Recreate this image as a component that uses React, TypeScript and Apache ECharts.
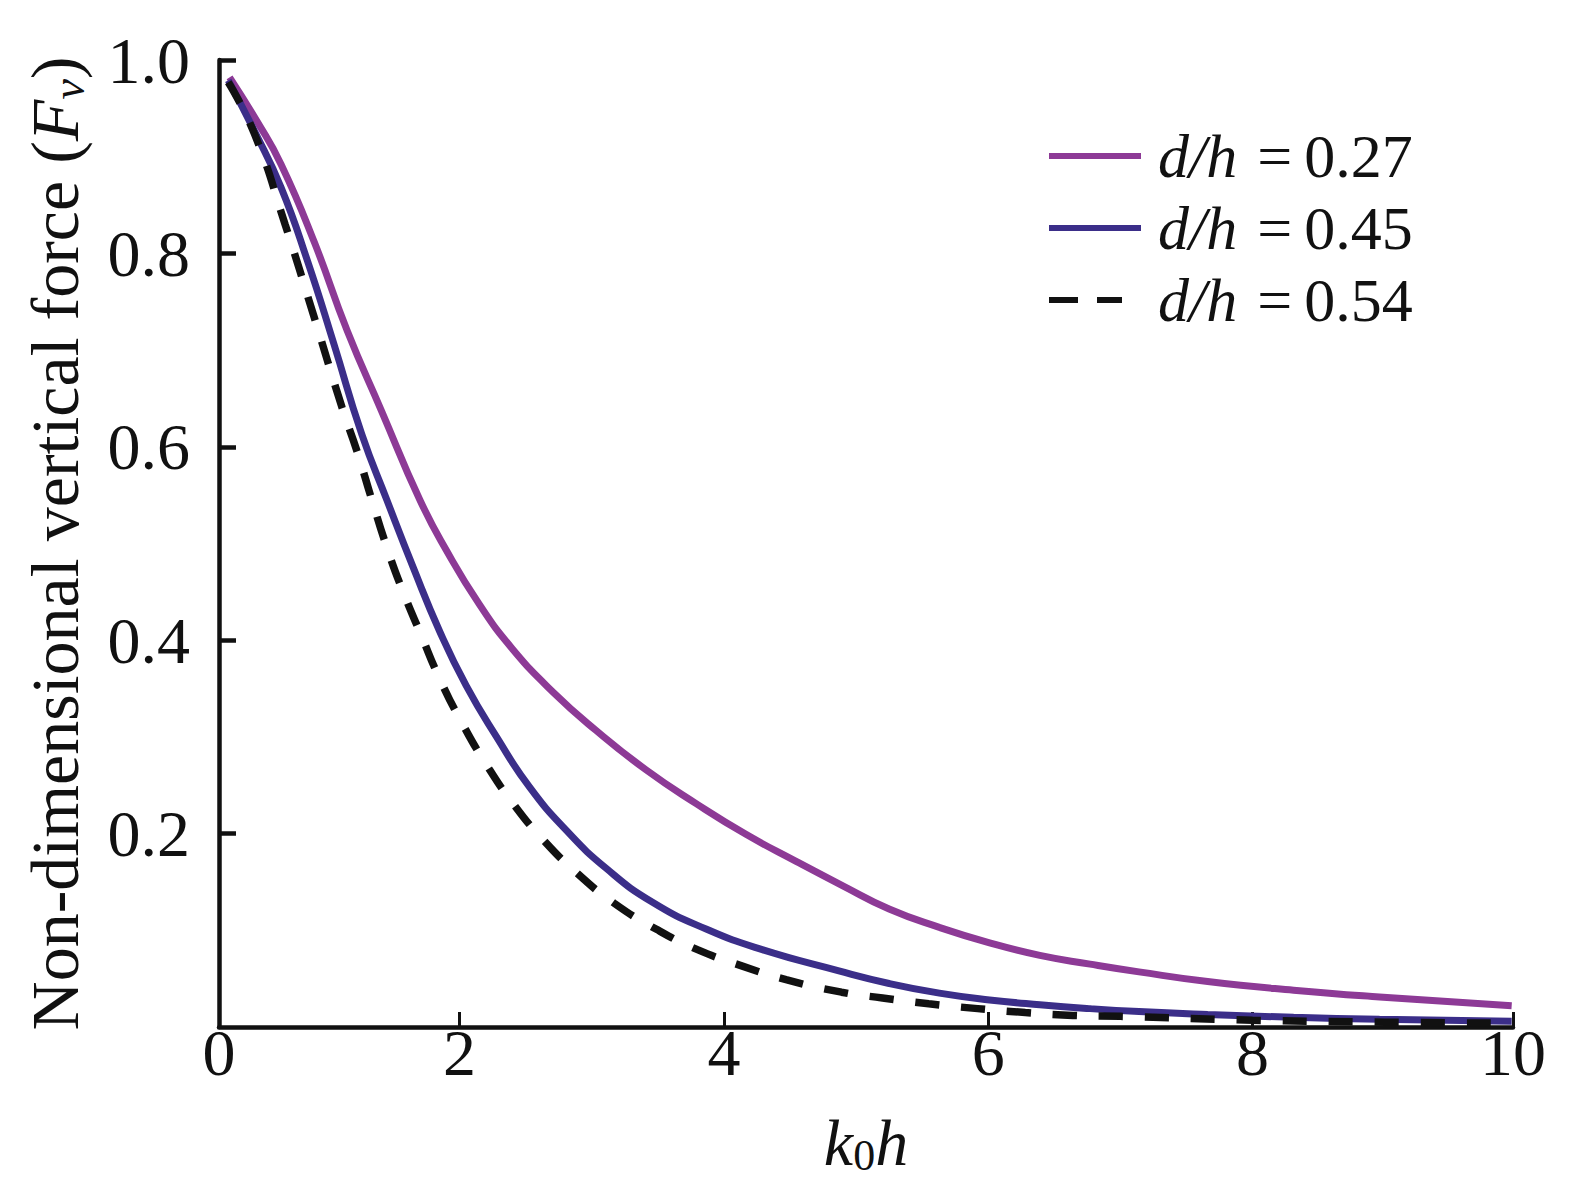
import React, { useEffect, useRef } from 'react';
import * as echarts from 'echarts';

// ---- data ----
const kh027 = [0.26, 0.47, 0.65, 0.9, 1.15, 1.41, 1.7, 1.9, 2.15, 2.4, 2.71, 3.03, 3.41, 3.79, 4.17, 4.55, 4.9, 5.25, 5.63, 6.01, 6.39, 6.77, 7.14, 7.66, 8.31, 8.96, 9.96];
const fv027 = [0.982, 0.936, 0.892, 0.812, 0.72, 0.637, 0.545, 0.493, 0.437, 0.391, 0.346, 0.307, 0.266, 0.231, 0.199, 0.171, 0.146, 0.122, 0.103, 0.087, 0.074, 0.065, 0.057, 0.047, 0.038, 0.031, 0.022];

const kh045 = [0.25, 0.45, 0.65, 0.85, 1.05, 1.26, 1.45, 1.65, 1.85, 2.05, 2.28, 2.53, 2.81, 3.11, 3.46, 3.87, 4.29, 4.87, 5.25, 5.63, 6.01, 6.39, 6.77, 7.14, 7.66, 8.31, 8.96, 9.96];
const fv045 = [0.979, 0.926, 0.868, 0.792, 0.706, 0.613, 0.545, 0.475, 0.409, 0.353, 0.3, 0.248, 0.203, 0.164, 0.129, 0.101, 0.08, 0.058, 0.045, 0.035, 0.028, 0.023, 0.019, 0.016, 0.013, 0.01, 0.008, 0.006];

const kh054 = [0.25, 0.45, 0.68, 0.9, 1.11, 1.23, 1.33, 1.45, 1.57, 1.71, 1.85, 2.02, 2.2, 2.4, 2.63, 2.89, 3.17, 3.49, 3.8, 4.14, 4.47, 4.89, 5.2, 5.55, 5.92, 6.28, 6.64, 7.0, 8.0, 9.0, 9.96];
const fv054 = [0.977, 0.923, 0.83, 0.734, 0.641, 0.593, 0.548, 0.496, 0.451, 0.405, 0.36, 0.314, 0.272, 0.232, 0.194, 0.159, 0.128, 0.101, 0.08, 0.063, 0.049, 0.036, 0.03, 0.024, 0.019, 0.015, 0.012, 0.011, 0.007, 0.005, 0.004];

const seriesNames = ['d/h=0.27', 'd/h=0.45', 'd/h=0.54'];

const xMin = 0.18;
const xMax = 9.97;
const xTickValues = [xMin, 2, 4, 6, 8, xMax];
const xTickLabels = ['0', '2', '4', '6', '8', '10'];
const yTickValues = [0.2, 0.4, 0.6, 0.8, 1.0];

const FONT = 'Liberation Serif';
const zip = (xs: number[], ys: number[]) => xs.map((x, i) => [x, ys[i]]);

const SOLID_ICON = 'path://M0,0H92V6H0Z';
const DASH_ICON = 'path://M0,0H29V6H0Z M48,0H73V6H48Z M91.9,2.9H92V3.1H91.9Z';

export default function App() {
  const ref = useRef<HTMLDivElement>(null);
  useEffect(() => {
    document.body.style.margin = '0';
    const chart = echarts.init(ref.current!, null, { renderer: 'svg' });
    const colors = ['#8d3a96', '#3b2e89', '#111111'];
    const option: any = {
      animation: false,
      backgroundColor: '#ffffff',
      grid: { left: 219, right: 62, top: 60, bottom: 158, containLabel: false },
      legend: {
        orient: 'vertical',
        left: 1049,
        top: 125,
        padding: 0,
        itemWidth: 92,
        itemHeight: 6,
        itemGap: 10,
        data: [
          { name: seriesNames[0], icon: SOLID_ICON },
          { name: seriesNames[1], icon: SOLID_ICON },
          { name: seriesNames[2], icon: DASH_ICON },
        ],
        formatter: (name: string) => {
          const [a, b] = name.split('=');
          return `{i|${a}}{e|=}{n|${b}}`;
        },
        textStyle: {
          color: '#111',
          fontFamily: FONT,
          fontSize: 62,
          rich: {
            i: { fontFamily: FONT, fontStyle: 'italic', fontSize: 62, lineHeight: 52, color: '#111', padding: [0, 0, 0, 12] },
            e: { fontFamily: FONT, fontSize: 62, lineHeight: 52, color: '#111', padding: [0, 12, 0, 20] },
            n: { fontFamily: FONT, fontSize: 62, lineHeight: 52, color: '#111' },
          },
        },
      },
      xAxis: {
        type: 'value',
        min: xMin,
        max: xMax,
        splitLine: { show: false },
        axisLine: { onZero: false, lineStyle: { color: '#111', width: 4.5 } },
        axisTick: { inside: true, length: 15, customValues: xTickValues.slice(1), lineStyle: { color: '#111', width: 3 } },
        axisLabel: {
          customValues: xTickValues,
          formatter: (v: number) => {
            const i = xTickValues.findIndex((t) => Math.abs(t - v) < 1e-6);
            return i >= 0 ? xTickLabels[i] : '';
          },
          margin: -8,
          color: '#111',
          fontFamily: FONT,
          fontSize: 66,
        },
        name: '{i|k}{s|0}{i|h}',
        nameLocation: 'middle',
        nameGap: 80,
        nameTextStyle: {
          color: '#111',
          fontFamily: FONT,
          fontSize: 66,
          rich: {
            i: { fontFamily: FONT, fontStyle: 'italic', fontSize: 66, lineHeight: 70, color: '#111' },
            s: { fontFamily: FONT, fontSize: 44, lineHeight: 32, verticalAlign: 'bottom', color: '#111' },
          },
        },
      },
      yAxis: {
        type: 'value',
        min: 0,
        max: 1,
        interval: 0.2,
        splitLine: { show: false },
        axisLine: { lineStyle: { color: '#111', width: 4.5 } },
        axisTick: { inside: true, length: 17, customValues: yTickValues, lineStyle: { color: '#111', width: 4.5 } },
        axisLabel: {
          customValues: yTickValues,
          formatter: (v: number) => v.toFixed(1),
          margin: 29,
          color: '#111',
          fontFamily: FONT,
          fontSize: 66,
        },
        name: '{n|Non-dimensional vertical force (}{i|F}{s|v}{n|)}',
        nameLocation: 'middle',
        nameRotate: 90,
        nameGap: 128,
        nameTextStyle: {
          color: '#111',
          fontFamily: FONT,
          fontSize: 68,
          rich: {
            n: { fontFamily: FONT, fontSize: 68, lineHeight: 72, color: '#111' },
            i: { fontFamily: FONT, fontStyle: 'italic', fontSize: 68, lineHeight: 72, color: '#111' },
            s: { fontFamily: FONT, fontStyle: 'italic', fontSize: 46, lineHeight: 34, verticalAlign: 'bottom', color: '#111' },
          },
        },
      },
      series: [
        {
          name: seriesNames[0],
          type: 'line',
          symbol: 'none',
          smooth: 0.5,
          data: zip(kh027, fv027),
          lineStyle: { color: colors[0], width: 7 },
          itemStyle: { color: colors[0] },
        },
        {
          name: seriesNames[1],
          type: 'line',
          symbol: 'none',
          smooth: 0.5,
          data: zip(kh045, fv045),
          lineStyle: { color: colors[1], width: 7 },
          itemStyle: { color: colors[1] },
        },
        {
          name: seriesNames[2],
          type: 'line',
          symbol: 'none',
          smooth: 0.5,
          data: zip(kh054, fv054),
          lineStyle: { color: colors[2], width: 7.5, type: [24, 22] },
          itemStyle: { color: colors[2] },
        },
      ],
    };
    chart.setOption(option);
    return () => chart.dispose();
  }, []);
  return <div ref={ref} style={{ width: 1575, height: 1185 }} />;
}
